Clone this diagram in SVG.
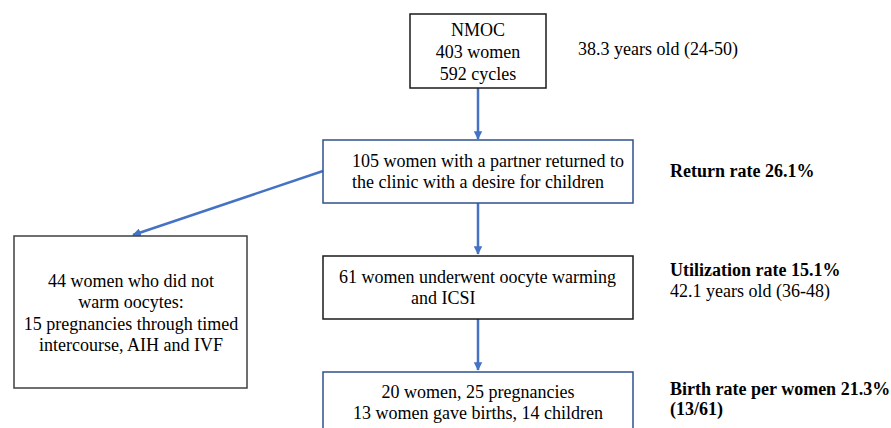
<svg xmlns="http://www.w3.org/2000/svg" width="891" height="428" viewBox="0 0 891 428">
<defs>
<style>
text{font-family:"Liberation Serif","Times New Roman",serif;font-size:18px;fill:#000}
.b{font-weight:bold}
.box{fill:#fff;stroke-width:1.5}
.k{stroke:#1a1a1a}
.g{stroke:#404040}
.bl{stroke:#2F528F}
.c{stroke:#4472C4;stroke-width:2.5;fill:none;marker-end:url(#ah)}
</style>
<marker id="ah" viewBox="0 0 10 10" refX="9" refY="5" markerWidth="3.4" markerHeight="3.4" orient="auto" markerUnits="strokeWidth">
<path d="M0,0 L10,5 L0,10 Z" fill="#4472C4"/>
</marker>
</defs>
<rect width="891" height="428" fill="#fff"/>
<g id="connectors">
<line class="c" x1="478" y1="88" x2="478" y2="139"/>
<line class="c" x1="323" y1="171" x2="133" y2="235"/>
<line class="c" x1="478" y1="203" x2="478" y2="254"/>
<line class="c" x1="478" y1="319" x2="478" y2="370"/>
</g>
<g id="nmoc">
<rect class="box k" x="410" y="14" width="136" height="74"/>
<text x="478" y="36" text-anchor="middle">NMOC</text>
<text x="478" y="58" text-anchor="middle">403 women</text>
<text x="478" y="80" text-anchor="middle">592 cycles</text>
</g>
<text x="578" y="55">38.3 years old (24-50)</text>
<g id="returned">
<rect class="box bl" x="323" y="140" width="310" height="63"/>
<text x="352" y="167">105 women with a partner returned to</text>
<text x="352" y="188">the clinic with a desire for children</text>
</g>
<text class="b" x="670" y="177">Return rate 26.1%</text>
<g id="notwarm">
<rect class="box g" x="14" y="236" width="233" height="152"/>
<text x="131" y="287" text-anchor="middle">44 women who did not</text>
<text x="131" y="308" text-anchor="middle">warm oocytes:</text>
<text x="131" y="330" text-anchor="middle">15 pregnancies through timed</text>
<text x="131" y="351" text-anchor="middle">intercourse, AIH and IVF</text>
</g>
<g id="warming">
<rect class="box k" x="323" y="256" width="310" height="63"/>
<text x="339" y="283">61 women underwent oocyte warming</text>
<text x="411" y="304">and ICSI</text>
</g>
<text class="b" x="670" y="276">Utilization rate 15.1%</text>
<text x="670" y="297">42.1 years old (36-48)</text>
<g id="births">
<rect class="box bl" x="323" y="372" width="310" height="70"/>
<text x="478" y="398" text-anchor="middle">20 women, 25 pregnancies</text>
<text x="478" y="419" text-anchor="middle">13 women gave births, 14 children</text>
</g>
<text class="b" x="670" y="395">Birth rate per women 21.3%</text>
<text class="b" x="670" y="415">(13/61)</text>
</svg>
